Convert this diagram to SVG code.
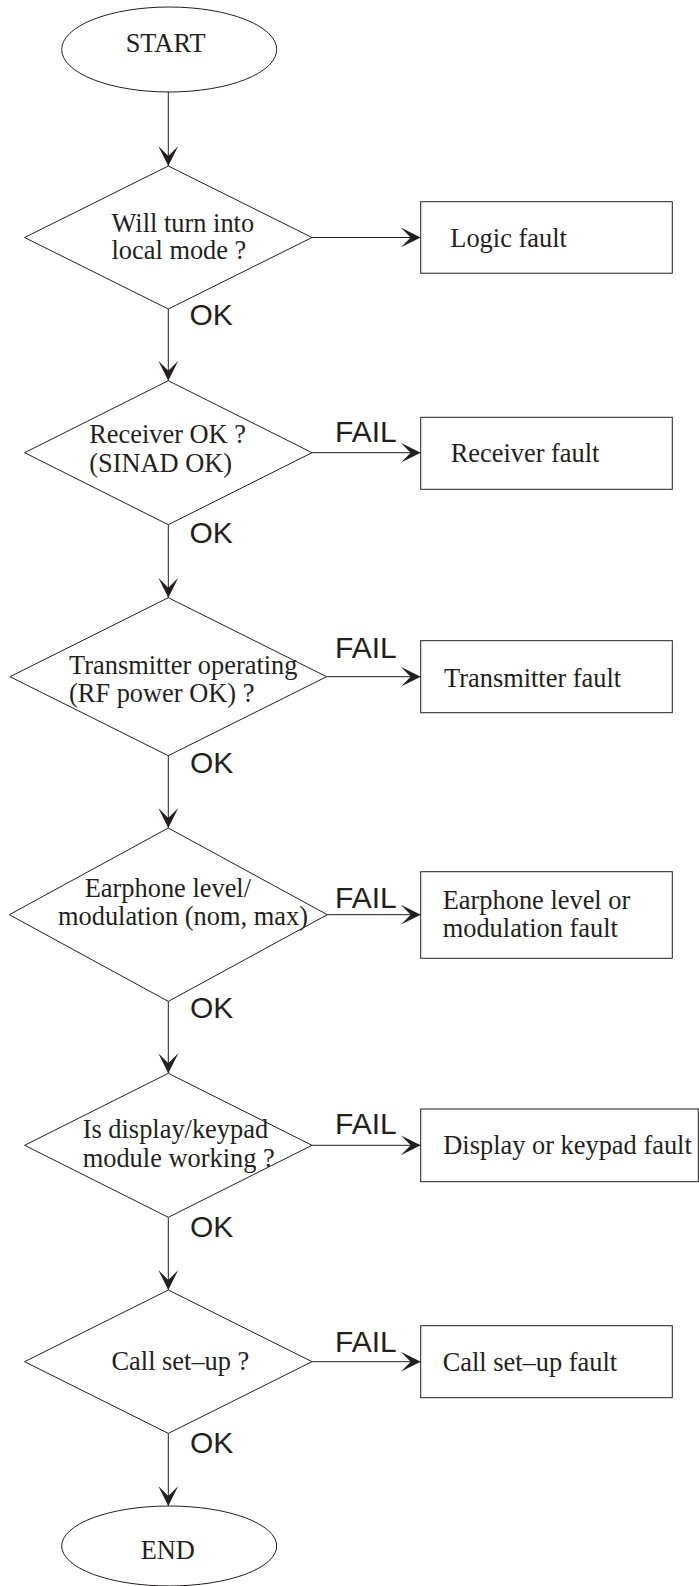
<svg xmlns="http://www.w3.org/2000/svg" width="699" height="1586" viewBox="0 0 699 1586">
  <style>
    .shape { fill: #ffffff; stroke: #231f20; stroke-width: 1; }
    .line { fill: none; stroke: #231f20; stroke-width: 1; marker-end: url(#arrow); }
    .serif { font-family: "Liberation Serif", "Times New Roman", serif; font-size: 26.4px; fill: #231f20; }
    .sans { font-family: "Liberation Sans", Arial, sans-serif; font-size: 30px; fill: #231f20; }
  </style>
  <defs>
    <marker id="arrow" viewBox="0 0 20 20" refX="20" refY="10" markerWidth="20" markerHeight="20" markerUnits="userSpaceOnUse" orient="auto">
      <path d="M20,10 L0,0 L10,10 L0,20 Z" fill="#231f20"/>
    </marker>
  </defs>
  <rect width="699" height="1586" fill="#ffffff"/>

  <!-- connectors -->
  <g id="connectors">
    <line class="line" x1="168.3" y1="92" x2="168.3" y2="166"/>
    <line class="line" x1="312" y1="237.5" x2="420.7" y2="237.5"/>
    <line class="line" x1="168.3" y1="309" x2="168.3" y2="380.7"/>
    <line class="line" x1="312" y1="452.7" x2="420.7" y2="452.7"/>
    <line class="line" x1="168.3" y1="524.7" x2="168.3" y2="597.7"/>
    <line class="line" x1="326.6" y1="676.7" x2="420.7" y2="676.7"/>
    <line class="line" x1="168.3" y1="755.7" x2="168.3" y2="828"/>
    <line class="line" x1="327.3" y1="914.7" x2="420.7" y2="914.7"/>
    <line class="line" x1="168.3" y1="1001.4" x2="168.3" y2="1073.3"/>
    <line class="line" x1="312" y1="1145.3" x2="420.7" y2="1145.3"/>
    <line class="line" x1="168.3" y1="1217.3" x2="168.3" y2="1290"/>
    <line class="line" x1="312" y1="1361.7" x2="420.7" y2="1361.7"/>
    <line class="line" x1="168.3" y1="1433.4" x2="168.3" y2="1506"/>
    <!-- branch labels -->
    <text class="sans" x="189.5" y="325">OK</text>
    <text class="sans" x="189.5" y="543.3">OK</text>
    <text class="sans" x="190" y="773.3">OK</text>
    <text class="sans" x="190" y="1018.3">OK</text>
    <text class="sans" x="190" y="1236.7">OK</text>
    <text class="sans" x="190" y="1452.7">OK</text>
    <text class="sans" x="335" y="441.7">FAIL</text>
    <text class="sans" x="335" y="658.3">FAIL</text>
    <text class="sans" x="335" y="908.3">FAIL</text>
    <text class="sans" x="335" y="1134">FAIL</text>
    <text class="sans" x="335" y="1351.7">FAIL</text>
  </g>

  <g id="start">
    <ellipse class="shape" cx="169.2" cy="49.5" rx="107.5" ry="42.5"/>
    <text class="serif" x="125.7" y="52">START</text>
  </g>

  <g id="q-local-mode">
    <polygon class="shape" points="168.3,166 312,237.5 168.3,309 24.6,237.5"/>
    <text class="serif"><tspan x="111.5" y="231.7">Will turn into</tspan><tspan x="111.5" y="259">local mode ?</tspan></text>
  </g>
  <g id="logic-fault">
    <rect class="shape" x="420.7" y="201.7" width="251.6" height="71.5"/>
    <text class="serif" x="450.3" y="246.7">Logic fault</text>
  </g>

  <g id="q-receiver">
    <polygon class="shape" points="168.3,380.7 312,452.7 168.3,524.7 24.6,452.7"/>
    <text class="serif"><tspan x="89.2" y="443.3">Receiver OK ?</tspan><tspan x="89.2" y="471.7">(SINAD OK)</tspan></text>
  </g>
  <g id="receiver-fault">
    <rect class="shape" x="420.7" y="417.3" width="251.6" height="72"/>
    <text class="serif" x="450.7" y="461.7">Receiver fault</text>
  </g>

  <g id="q-transmitter">
    <polygon class="shape" points="168.3,597.7 326.6,676.7 168.3,755.7 10,676.7"/>
    <text class="serif"><tspan x="69" y="674">Transmitter operating</tspan><tspan x="69" y="702.2">(RF power OK) ?</tspan></text>
  </g>
  <g id="transmitter-fault">
    <rect class="shape" x="420.7" y="640.7" width="251.6" height="72"/>
    <text class="serif" x="444" y="686.7">Transmitter fault</text>
  </g>

  <g id="q-earphone">
    <polygon class="shape" points="168.3,828 327.3,914.7 168.3,1001.4 9.3,914.7"/>
    <text class="serif"><tspan x="84.7" y="897">Earphone level/</tspan><tspan x="58" y="925">modulation (nom, max)</tspan></text>
  </g>
  <g id="earphone-fault">
    <rect class="shape" x="420.7" y="871.7" width="251.6" height="86.6"/>
    <text class="serif"><tspan x="442.7" y="909.2">Earphone level or</tspan><tspan x="442.7" y="937.4">modulation fault</tspan></text>
  </g>

  <g id="q-display">
    <polygon class="shape" points="168.3,1073.3 312,1145.3 168.3,1217.3 24.6,1145.3"/>
    <text class="serif"><tspan x="82.7" y="1138.3">Is display/keypad</tspan><tspan x="82.7" y="1166.7">module working ?</tspan></text>
  </g>
  <g id="display-fault">
    <rect class="shape" x="420.7" y="1109" width="277.6" height="72.7"/>
    <text class="serif" x="443.3" y="1154.3">Display or keypad fault</text>
  </g>

  <g id="q-call-setup">
    <polygon class="shape" points="168.3,1290 312,1361.7 168.3,1433.4 24.6,1361.7"/>
    <text class="serif" x="111.5" y="1370">Call set–up ?</text>
  </g>
  <g id="call-setup-fault">
    <rect class="shape" x="420.7" y="1325.7" width="251.6" height="72"/>
    <text class="serif" x="442.7" y="1371">Call set–up fault</text>
  </g>

  <g id="end">
    <ellipse class="shape" cx="169.2" cy="1546" rx="107.5" ry="40"/>
    <text class="serif" x="140.7" y="1559.3">END</text>
  </g>
</svg>
